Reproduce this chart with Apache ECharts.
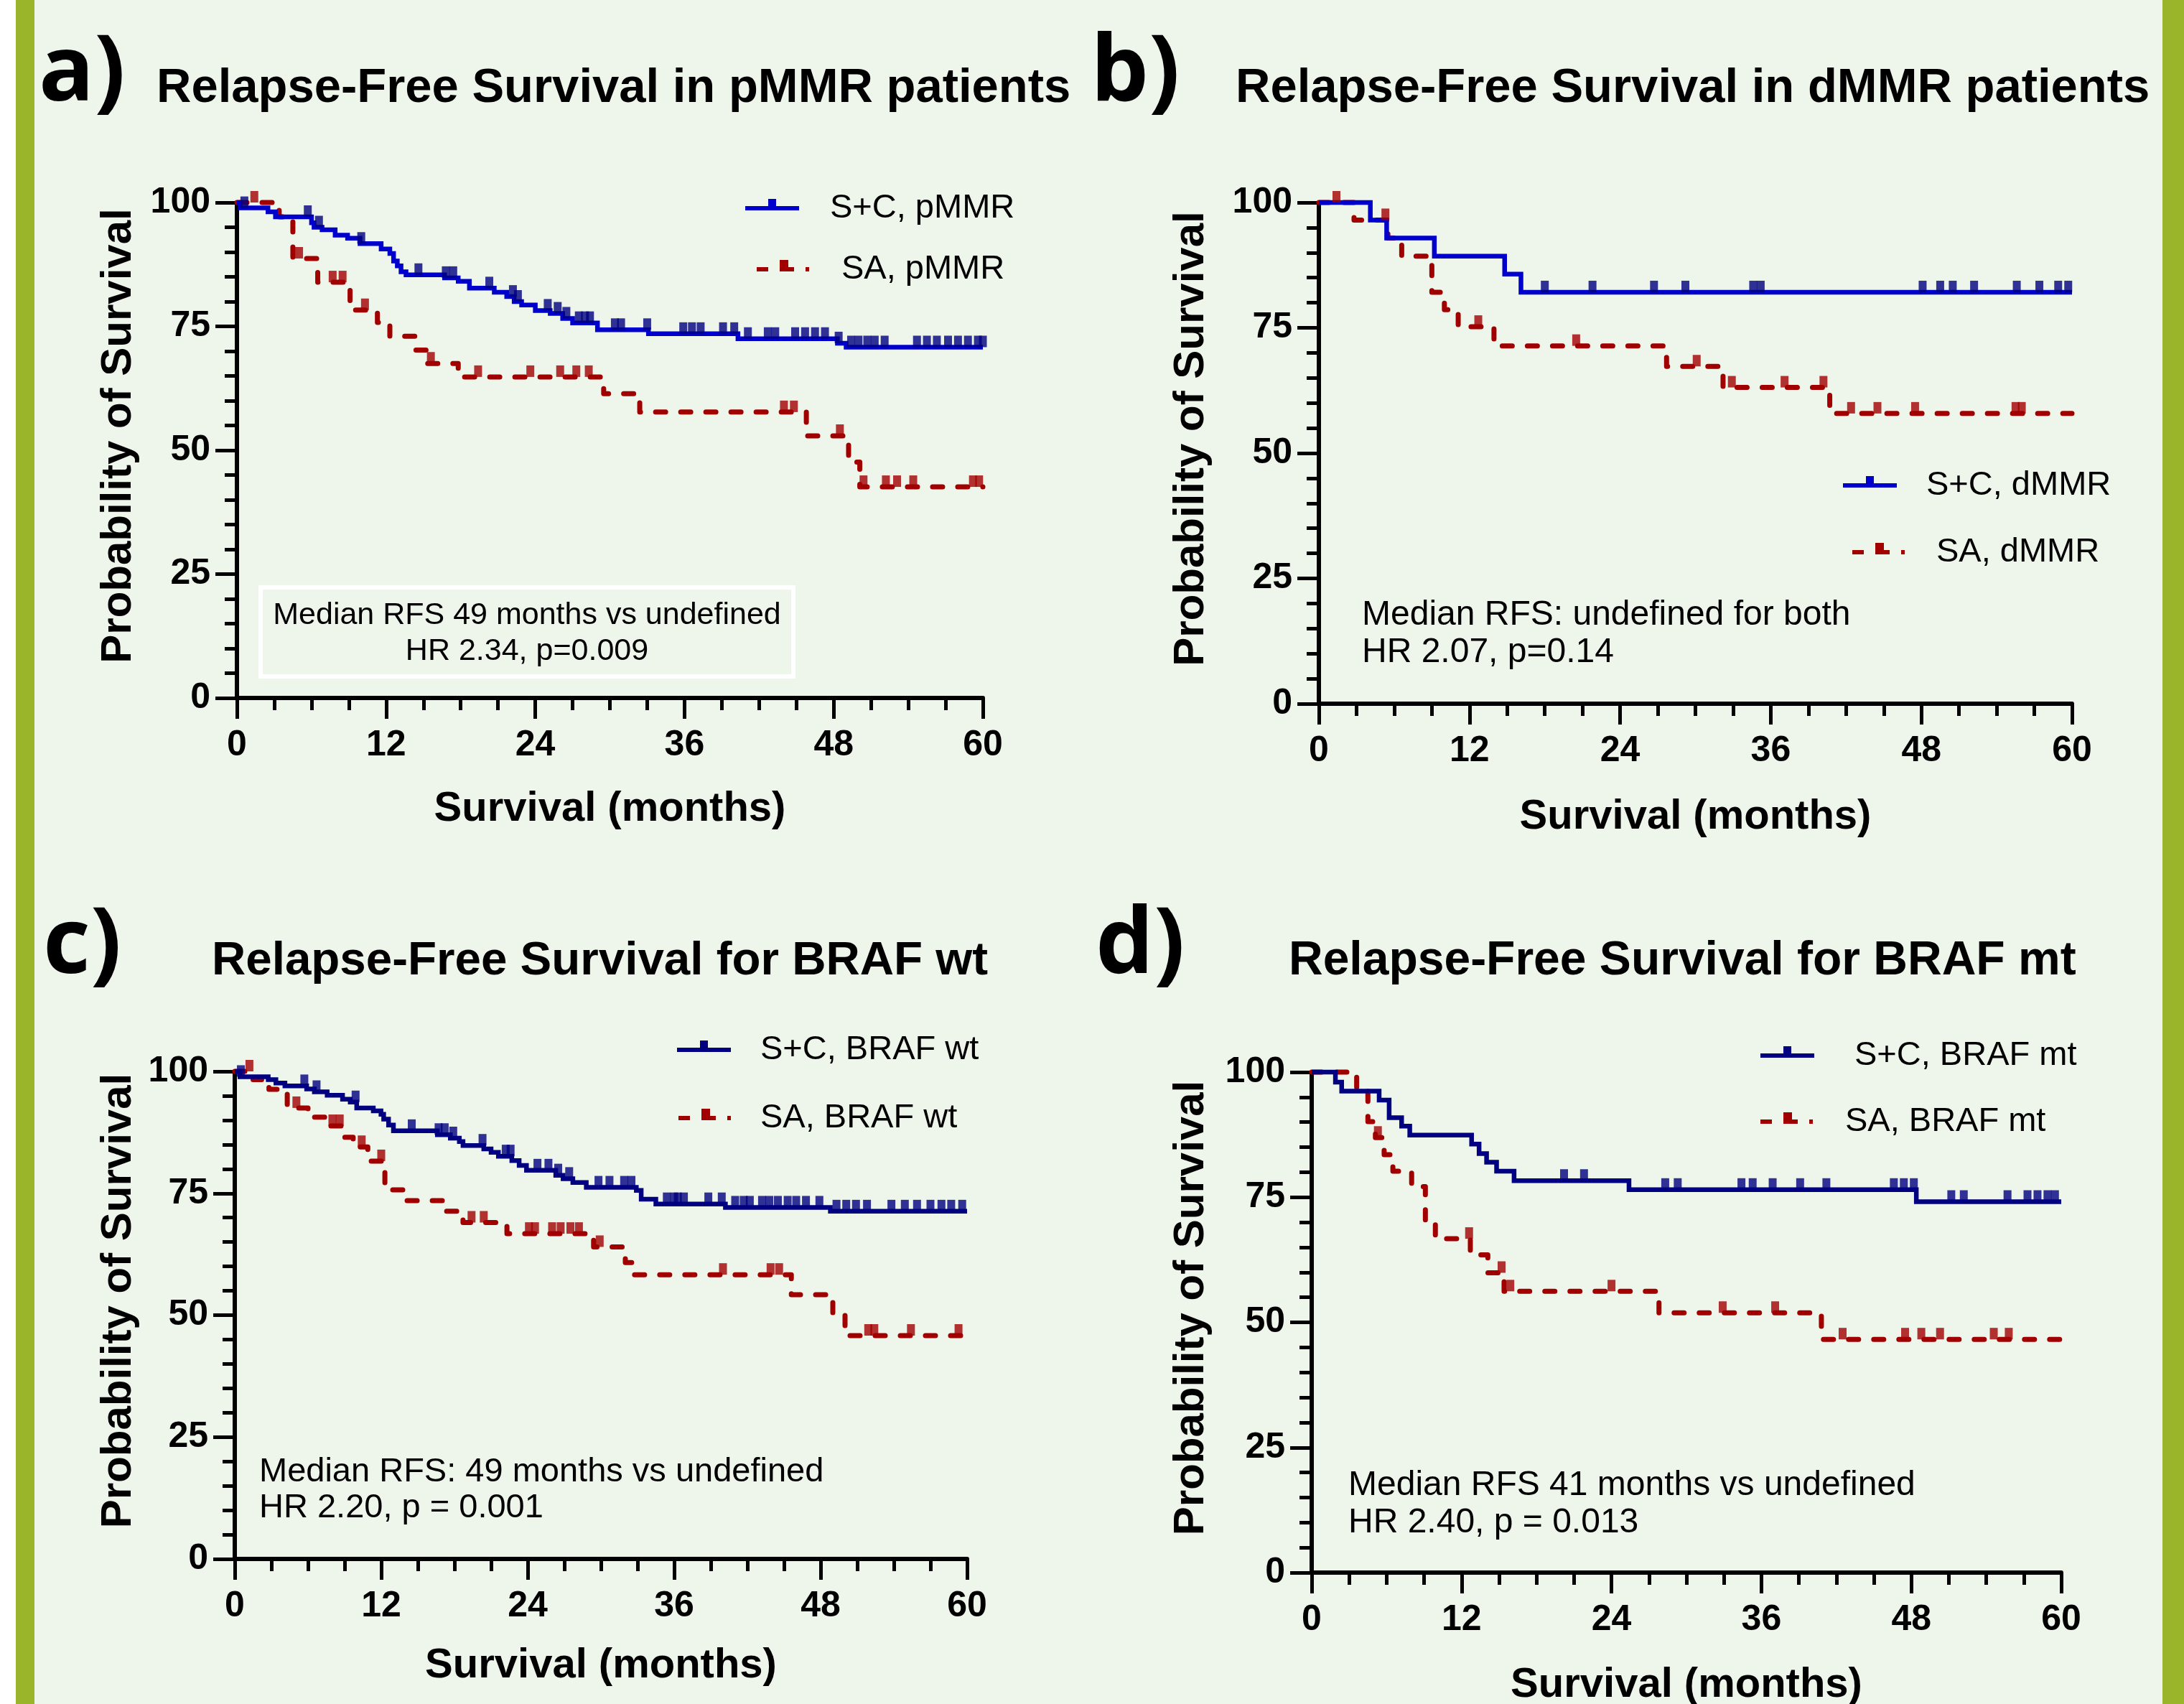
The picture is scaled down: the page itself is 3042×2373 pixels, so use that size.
<!DOCTYPE html>
<html><head><meta charset="utf-8">
<script src="https://cdn.jsdelivr.net/npm/echarts/dist/echarts.min.js"></script>
<style>
html,body{margin:0;padding:0;background:#fff;}
#wrap{position:relative;width:3042px;height:2373px;background:#eef5eb;overflow:hidden;}
#lw{position:absolute;left:0;top:0;width:22px;height:2373px;background:#fff;}
#lb{position:absolute;left:22px;top:0;width:26px;height:2373px;background:#9bb52a;}
#rb{position:absolute;left:3012px;top:0;width:30px;height:2373px;background:#9bb52a;}
#chart{position:absolute;left:0;top:0;width:3042px;height:2373px;}
</style></head>
<body>
<div id="wrap"><div id="lw"></div><div id="lb"></div><div id="rb"></div><div id="chart"></div></div>
<script>
// ---------- DATA ----------
const xTicks = [0, 12, 24, 36, 48, 60];
const yTicks = [0, 25, 50, 75, 100];

// a) pMMR
const aScTime = [0,0.25,2.5,3.1,6.0,6.2,6.85,7.9,8.9,9.9,11.6,12.3,12.6,12.9,13.2,13.6,16.7,17.8,18.7,20.7,21.7,22.3,22.9,24.0,25.2,26.2,27.0,29.0,33.1,40.3,48.3,49.0,60];
const aScSurv = [100,98.9,98.1,97.1,95.9,95.0,94.5,93.4,92.8,91.7,90.6,89.7,88.2,87.2,86.0,85.4,84.8,84.1,82.7,81.9,81.0,80.0,79.3,78.2,77.6,76.6,75.7,74.3,73.5,72.5,71.6,70.8,70.8];
const aScCensTime = [0.6,5.7,6.6,10.0,14.6,16.8,17.4,20.3,22.2,22.6,25.0,25.8,26.5,27.5,28.0,28.4,30.4,30.9,33.0,35.9,36.6,37.3,39.1,40.0,41.1,42.7,43.3,44.9,45.7,46.5,47.3,48.4,49.4,50.0,50.7,51.3,52.1,54.7,55.5,56.3,57.2,58.0,58.8,59.6,60.0];
const aScCensSurv = [98.9,97.1,95.0,91.7,85.4,84.8,84.8,82.7,81.0,80.0,78.2,77.6,76.6,75.7,75.7,75.7,74.3,74.3,74.3,73.5,73.5,73.5,73.5,73.5,72.5,72.5,72.5,72.5,72.5,72.5,72.5,71.6,70.8,70.8,70.8,70.8,70.8,70.8,70.8,70.8,70.8,70.8,70.8,70.8,70.8];
const aSaTime = [0,3.4,4.5,6.5,9.1,11.3,12.3,14.4,15.3,17.8,29.5,32.4,45.8,49.2,50.1,60];
const aSaSurv = [100,97.1,88.7,83.9,78.3,75.8,73.0,70.2,67.5,64.8,61.4,57.7,52.9,47.6,42.6,42.6];
const aSaCensTime = [1.4,5.0,7.7,8.5,10.3,15.6,19.4,23.6,26.0,27.3,28.3,44.0,44.8,48.5,50.4,52.2,53.1,54.4,59.2,59.7];
const aSaCensSurv = [100,88.7,83.9,83.9,78.3,67.5,64.8,64.8,64.8,64.8,64.8,57.7,57.7,52.9,42.6,42.6,42.6,42.6,42.6,42.6];

// b) dMMR
const bScTime = [0,4.1,5.4,9.2,14.8,16.1,60];
const bScSurv = [100,96.5,92.9,89.3,85.7,82.1,82.1];
const bScCensTime = [18.0,21.8,26.7,29.2,34.6,35.2,48.1,49.5,50.5,52.2,55.6,57.4,58.9,59.7];
const bScCensSurv = [82.1,82.1,82.1,82.1,82.1,82.1,82.1,82.1,82.1,82.1,82.1,82.1,82.1,82.1];
const bSaTime = [0,2.8,5.5,6.6,9.0,10.0,11.1,13.95,27.7,32.2,40.7,60];
const bSaSurv = [100,96.5,92.9,89.3,82.1,78.6,75.2,71.4,67.3,63.1,57.9,57.9];
const bSaCensTime = [1.4,5.3,12.7,20.5,30.1,32.9,37.1,40.2,42.4,44.5,47.5,55.5,56.0];
const bSaCensSurv = [100,96.5,75.2,71.4,67.3,63.1,63.1,63.1,57.9,57.9,57.9,57.9,57.9];

// c) BRAF wt
const cScTime = [0,0.43,2.74,3.37,4.11,5.89,6.52,7.57,8.83,9.46,9.99,11.35,11.98,12.2,12.6,13.0,16.6,17.66,18.4,18.7,20.4,21.0,21.6,22.7,23.3,23.9,26.3,26.9,27.7,28.8,32.9,33.3,34.5,40.2,48.8,60];
const cScSurv = [100,98.9,98.3,97.6,97.0,96.4,95.8,95.1,94.3,93.7,92.5,91.9,91.2,90.2,89.0,87.8,87.0,86.3,85.6,84.8,84.1,83.4,82.6,81.7,80.7,79.7,78.7,78.0,77.2,76.2,75.6,73.8,72.8,72.1,71.3,71.3];
const cScCensTime = [0.5,5.7,6.7,9.9,14.5,16.7,17.2,17.9,20.3,22.2,22.6,24.8,25.7,26.5,27.4,29.8,30.7,31.9,32.5,35.4,36.0,36.3,36.8,38.8,39.9,41.0,41.7,42.2,43.2,43.8,44.5,45.3,46.0,46.8,47.9,49.3,50.1,50.9,51.8,53.8,54.9,55.9,57.0,57.9,58.7,59.6];
const cScCensSurv = [98.9,97.0,95.8,93.7,87.8,87.0,87.0,86.3,84.8,82.6,82.6,79.7,79.7,78.7,78.0,76.2,76.2,76.2,76.2,72.8,72.8,72.8,72.8,72.8,72.8,72.1,72.1,72.1,72.1,72.1,72.1,72.1,72.1,72.1,72.1,71.3,71.3,71.3,71.3,71.3,71.3,71.3,71.3,71.3,71.3,71.3];
const cSaTime = [0,1.5,2.8,4.3,6.0,7.4,8.85,9.7,10.9,12.3,14.1,17.2,18.7,22.3,29.4,32.0,32.6,45.6,49.0,50.0,60];
const cSaSurv = [100,98.3,96.3,92.5,90.6,88.8,86.5,84.5,81.6,75.7,73.5,71.3,69.0,66.7,64.0,60.8,58.3,54.2,50.0,45.8,45.8];
const cSaCensTime = [1.2,5.05,8.0,8.6,10.4,12.0,19.4,20.4,24.1,24.6,26.0,26.7,27.5,28.2,29.9,40.0,43.9,44.6,51.9,52.4,55.4,59.3];
const cSaCensSurv = [100,92.5,88.8,88.8,84.5,81.6,69.0,69.0,66.7,66.7,66.7,66.7,66.7,66.7,64.0,58.3,58.3,58.3,45.8,45.8,45.8,45.8];

// d) BRAF mt
const dScTime = [0,1.9,2.4,5.4,6.2,7.2,7.85,12.8,13.4,14.0,14.8,16.2,25.4,48.4,60];
const dScSurv = [100,98.0,96.2,94.4,90.9,89.2,87.4,85.6,83.7,82.0,80.2,78.3,76.5,74.1,74.1];
const dScCensTime = [20.2,21.8,28.3,29.3,34.4,35.3,36.9,39.1,41.2,46.6,47.4,48.2,51.2,52.2,55.7,57.3,58.1,58.9,59.5];
const dScCensSurv = [78.3,78.3,76.5,76.5,76.5,76.5,76.5,76.5,76.5,76.5,76.5,76.5,74.1,74.1,74.1,74.1,74.1,74.1,74.1];
const dSaTime = [0,3.6,4.5,5.1,5.8,6.5,8.0,9.1,9.9,12.7,14.1,15.4,27.8,40.8,60];
const dSaSurv = [100,96.6,90.1,86.9,83.5,80.2,77.1,70.2,66.7,63.5,59.9,56.2,51.9,46.6,46.6];
const dSaCensTime = [5.3,12.6,15.2,15.9,24.0,32.9,37.1,42.5,47.5,48.8,50.3,54.6,55.8];
const dSaCensSurv = [86.9,66.7,59.9,56.2,56.2,51.9,51.9,46.6,46.6,46.6,46.6,46.6,46.6];

const seriesNames = ['S+C, pMMR','SA, pMMR','S+C, dMMR','SA, dMMR','S+C, BRAF wt','SA, BRAF wt','S+C, BRAF mt','SA, BRAF mt'];
const panelLabels = ['a)','b)','c)','d)'];
const panelTitles = ['Relapse-Free Survival in pMMR patients','Relapse-Free Survival in dMMR patients','Relapse-Free Survival for BRAF wt','Relapse-Free Survival for BRAF mt'];
const notes = [
  ['Median RFS 49 months vs undefined','HR 2.34, p=0.009'],
  ['Median RFS: undefined for both','HR 2.07, p=0.14'],
  ['Median RFS: 49 months vs undefined','HR 2.20, p = 0.001'],
  ['Median RFS 41 months vs undefined','HR 2.40, p = 0.013']
];
const xName = 'Survival (months)';
const yName = 'Probability of Survival';

// ---------- STYLE / LAYOUT ----------
const FONT = '"Liberation Sans", Arial, Helvetica, sans-serif';
const BLUE = '#0000cc', NAVY = '#000080', RED = '#a00000';
const grids = [
  {left:330, top:282, width:1039, height:690},
  {left:1837, top:282, width:1049, height:698},
  {left:327, top:1492, width:1020, height:679},
  {left:1827, top:1493, width:1044, height:697}
];
const xGaps = [126, 129, 120, 128];
const yGaps = [135, 148, 132, 138];
const lineColors = [BLUE, BLUE, NAVY, NAVY];

function pairs(t, s) { return t.map((x, i) => [x, s[i]]); }

const xAxes = grids.map((g, i) => ({
  gridIndex: i, type: 'value', min: 0, max: 60, interval: 12,
  axisLine: {onZero: false, lineStyle: {color: '#000', width: 6}},
  axisTick: {show: true, length: 29, lineStyle: {color: '#000', width: 5}},
  minorTick: {show: true, splitNumber: 4, length: 17, lineStyle: {color: '#000', width: 5}},
  splitLine: {show: false}, minorSplitLine: {show: false},
  axisLabel: {color: '#000', fontSize: 50, fontWeight: 'bold', fontFamily: FONT, margin: 41,
    formatter: v => xTicks.indexOf(v) >= 0 ? String(v) : ''},
  name: xName, nameLocation: 'middle', nameGap: xGaps[i],
  nameTextStyle: {color: '#000', fontSize: 58, fontWeight: 'bold', fontFamily: FONT}
}));
const yAxes = grids.map((g, i) => ({
  gridIndex: i, type: 'value', min: 0, max: 100, interval: 25,
  axisLine: {show: true, onZero: false, lineStyle: {color: '#000', width: 6}},
  axisTick: {show: true, length: 30, lineStyle: {color: '#000', width: 5}},
  minorTick: {show: true, splitNumber: 5, length: 17, lineStyle: {color: '#000', width: 5}},
  splitLine: {show: false}, minorSplitLine: {show: false},
  axisLabel: {color: '#000', fontSize: 50, fontWeight: 'bold', fontFamily: FONT, margin: 37,
    formatter: v => yTicks.indexOf(v) >= 0 ? String(v) : ''},
  name: yName, nameLocation: 'middle', nameGap: yGaps[i],
  nameTextStyle: {color: '#000', fontSize: 60, fontWeight: 'bold', fontFamily: FONT, padding: [0, 0, 0, 40]}
}));

const curves = [
  [aSaTime, aSaSurv, aSaCensTime, aSaCensSurv, 1, 0, false],
  [aScTime, aScSurv, aScCensTime, aScCensSurv, 0, 0, true],
  [bSaTime, bSaSurv, bSaCensTime, bSaCensSurv, 3, 1, false],
  [bScTime, bScSurv, bScCensTime, bScCensSurv, 2, 1, true],
  [cSaTime, cSaSurv, cSaCensTime, cSaCensSurv, 5, 2, false],
  [cScTime, cScSurv, cScCensTime, cScCensSurv, 4, 2, true],
  [dSaTime, dSaSurv, dSaCensTime, dSaCensSurv, 7, 3, false],
  [dScTime, dScSurv, dScCensTime, dScCensSurv, 6, 3, true]
];
const series = [];
curves.forEach(([t, s, ct, cs, ni, p, isSc]) => {
  const col = isSc ? lineColors[p] : RED;
  series.push({
    type: 'line', name: seriesNames[ni], xAxisIndex: p, yAxisIndex: p,
    data: pairs(t, s), step: 'end', symbol: 'none', showSymbol: false, clip: false, silent: true,
    z: isSc ? 4 : 3,
    lineStyle: isSc ? {color: col, width: 6.5, cap: 'butt', join: 'miter'}
                    : {color: col, width: 7, type: [14, 21], cap: 'round', join: 'round'},
    itemStyle: {color: col}
  });
  series.push({
    type: 'scatter', name: seriesNames[ni] + ' (censored)', xAxisIndex: p, yAxisIndex: p,
    data: pairs(ct, cs), symbol: 'rect', symbolSize: [11, 16], symbolOffset: [0, -8],
    clip: false, silent: true, z: isSc ? 5 : 4,
    itemStyle: {color: isSc ? NAVY : RED}
  });
});

// icons are symmetric about the line centre (y=13) so text centre = line centre
const SC_ICON = 'path://M0,10h75v6H0z M32,0h11v10H32z M74.9,25.9h0.1v0.1h-0.1z';
const SA_ICON = 'path://M0,10h16v6H0z M32,10h20v6H32z M32,0h12v10H32z M68,10h5v6H68z M72.9,25.9h0.1v0.1h-0.1z';
// [series index, is S+C, icon left, line centre y, text padding]
const legendPos = [
  [0, true, 1038, 290, 38], [1, false, 1054, 375, 40],
  [2, true, 2567, 676, 36], [3, false, 2580, 769, 39],
  [4, true, 943, 1462, 36], [5, false, 945, 1557, 36],
  [6, true, 2452, 1470, 51], [7, false, 2452, 1562, 40]
];
const LEG_FS = 47;
const legends = legendPos.map(([ni, isSc, l, cy, pad]) => ({
  show: true, left: l, top: cy - LEG_FS / 2, padding: 0, selectedMode: false,
  itemWidth: isSc ? 75 : 73, itemHeight: 26,
  data: [{name: seriesNames[ni], icon: isSc ? SC_ICON : SA_ICON,
          itemStyle: {color: isSc ? (ni < 4 ? BLUE : NAVY) : RED, borderWidth: 0}}],
  textStyle: {fontSize: LEG_FS, fontFamily: FONT, color: '#000', padding: [0, 0, 0, pad]}
}));

const labelPos = [[54, 40], [1519, 40], [60, 1255], [1526, 1255]];
const titlePos = [[218, 90, 67], [1721, 90, 67], [295, 1306, 65.5], [1795, 1306, 66]];
const titles = [];
panelLabels.forEach((t, i) => titles.push({text: t, left: labelPos[i][0], top: labelPos[i][1], padding: 0,
  textStyle: {fontFamily: '"Open Sans", Lato, sans-serif', fontWeight: 'bold', fontSize: 128, lineHeight: 128, color: '#000'}}));
panelTitles.forEach((t, i) => titles.push({text: t, left: titlePos[i][0], top: titlePos[i][1], padding: 0,
  textStyle: {fontFamily: FONT, fontWeight: 'bold', fontSize: titlePos[i][2], lineHeight: titlePos[i][2], color: '#000'}}));

const notePos = [
  {x: 734, y: [857, 907], align: 'center', size: 43},
  {x: 1897, y: [857, 909], align: 'left', size: 48},
  {x: 361, y: [2050, 2100], align: 'left', size: 47},
  {x: 1878, y: [2069, 2121], align: 'left', size: 48}
];
const graphic = [{type: 'rect', silent: true, shape: {x: 363, y: 818, width: 742, height: 124},
  style: {fill: 'none', stroke: '#ffffff', lineWidth: 6}}];
notes.forEach((lines, i) => lines.forEach((txt, j) => graphic.push({
  type: 'text', silent: true, x: notePos[i].x, y: notePos[i].y[j],
  style: {text: txt, font: notePos[i].size + 'px ' + FONT, fill: '#000',
          textAlign: notePos[i].align, textVerticalAlign: 'middle'}
})));

const chart = echarts.init(document.getElementById('chart'), null, {renderer: 'canvas', width: 3042, height: 2373});
chart.setOption({
  animation: false,
  backgroundColor: 'transparent',
  title: titles,
  legend: legends,
  grid: grids.map(g => Object.assign({containLabel: false, outerBoundsMode: 'none'}, g)),
  xAxis: xAxes,
  yAxis: yAxes,
  series: series,
  graphic: graphic
});
</script>
</body></html>
